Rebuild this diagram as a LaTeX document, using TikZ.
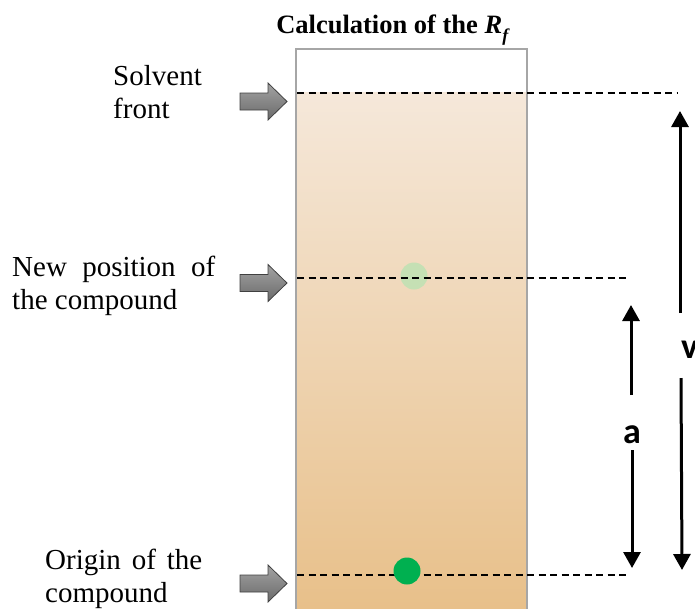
\documentclass[tikz,border=0pt]{standalone}
\usepackage{fontspec}
\setmainfont{Liberation Serif}
\newfontfamily\calibfont{Carlito}
\usetikzlibrary{arrows.meta}
\definecolor{platetop}{HTML}{F5E8DA}
\definecolor{platebot}{HTML}{E8C08A}
\definecolor{plateedge}{HTML}{A6A6A6}
\definecolor{spotgreen}{HTML}{00B050}
\definecolor{fadegreen}{HTML}{C5E0B4}
\definecolor{arrowdark}{HTML}{6A6A6A}
\definecolor{arrowlight}{HTML}{A3A3A3}
\begin{document}
\begin{tikzpicture}[x=1pt,y=-1pt,
  sidelabel/.style={inner sep=0pt, font=\fontsize{29}{33}\selectfont, align=left, anchor=base west},
  guide/.style={dash pattern=on 7pt off 4.5pt, line width=1.5pt},
  blockarrow/.style={draw=black!75, line width=0.8pt, top color=arrowlight, bottom color=arrowdark},
  dimarrow/.style={line width=3pt, -{Triangle[width=17pt,length=16pt]}},
  dimlabel/.style={inner sep=0pt, font=\calibfont\bfseries\fontsize{36}{40}\selectfont}]
\clip (0,0) rectangle (695,608);
\useasboundingbox (0,0) rectangle (695,608);
% plate
\fill[white] (295,48) rectangle (526,620);
\shade[top color=platetop, bottom color=platebot] (295,92) rectangle (526,608);
\node[draw=plateedge, line width=2pt, minimum width=231pt, minimum height=580pt, inner sep=0pt, anchor=north west] (plate) at (295,48) {};
% title
\node[font=\bfseries\fontsize{26.5}{30}\selectfont, anchor=base, inner sep=0pt] (title) at (393,33)
  {Calculation of the \textit{R}\raisebox{-8pt}{\fontsize{18}{18}\selectfont\textit{f}}};
% faint spot (under the line)
\node[circle, fill=fadegreen, minimum size=27pt, inner sep=0pt] (newspot) at (414,276) {};
% guide lines
\coordinate (frontL) at (297,93);  \coordinate (frontR) at (678,93);
\coordinate (newL) at (297,278);   \coordinate (newR) at (628,278);
\coordinate (origL) at (297,575);  \coordinate (origR) at (630,575);
\draw[guide] (frontL) -- (frontR);
\draw[guide] (newL) -- (newR);
\draw[guide] (origL) -- (origR);
% origin spot
\node[circle, fill=spotgreen, minimum size=27pt, inner sep=0pt] (origspot) at (407,571) {};
% block arrows
\draw[blockarrow, shift={(240,101.5)}] (0,-8.5) -- (28,-8.5) -- (28,-18.5) -- (47,0) -- (28,18.5) -- (28,8.5) -- (0,8.5) -- cycle;
\draw[blockarrow, shift={(240,283)}] (0,-8.5) -- (28,-8.5) -- (28,-18.5) -- (47,0) -- (28,18.5) -- (28,8.5) -- (0,8.5) -- cycle;
\draw[blockarrow, shift={(240,583.5)}] (0,-8.5) -- (28,-8.5) -- (28,-18.5) -- (47,0) -- (28,18.5) -- (28,8.5) -- (0,8.5) -- cycle;
% labels (anchor is the baseline of the last line)
\node[sidelabel] (solvent) at (113,118) {Solvent\\front};
\node[sidelabel] (newpos) at (12,309) {\makebox[203pt][s]{New position of}\\the compound};
\node[sidelabel] (origin) at (45,602) {\makebox[157pt][s]{Origin of the}\\compound};
% dimension arrows
\coordinate (vUpFrom) at (680,313); \coordinate (vUpTo) at (680,111);
\coordinate (vDnFrom) at (681,378); \coordinate (vDnTo) at (682,570);
\coordinate (aUpFrom) at (631,395); \coordinate (aUpTo) at (631,305);
\coordinate (aDnFrom) at (632,450); \coordinate (aDnTo) at (632,568);
\draw[dimarrow] (vUpFrom) -- (vUpTo);
\draw[dimarrow] (vDnFrom) -- (vDnTo);
\draw[dimarrow] (aUpFrom) -- (aUpTo);
\draw[dimarrow] (aDnFrom) -- (aDnTo);
\node[dimlabel, anchor=base] (alab) at (632,443) {a};
\node[dimlabel, anchor=base west] (vlab) at (681,358) {v};
\end{tikzpicture}
\end{document}
